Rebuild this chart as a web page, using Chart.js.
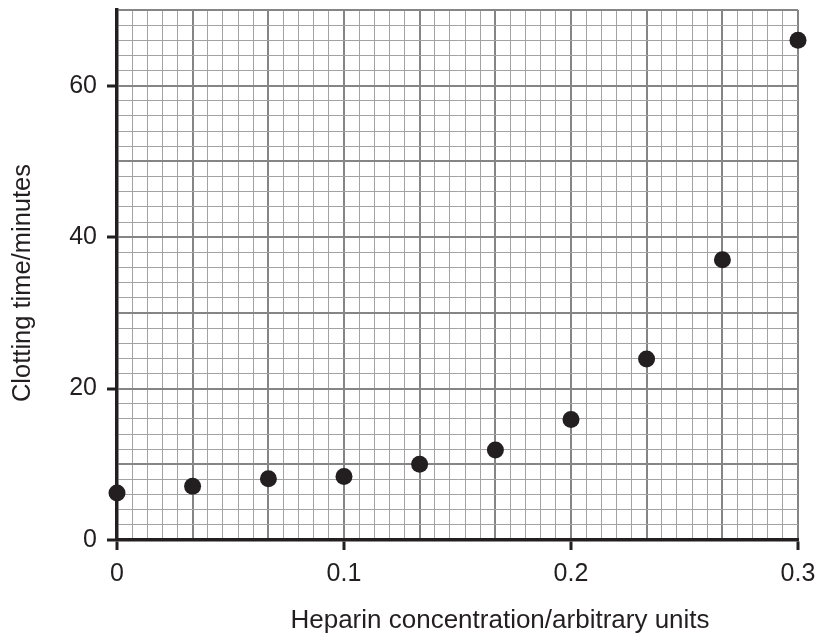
<!DOCTYPE html>
<html>
<head>
<meta charset="utf-8">
<script src="https://cdn.jsdelivr.net/npm/chart.js@4/dist/chart.umd.min.js"></script>
<style>
  body { margin: 0; background: #fff; }
  canvas { display: block; }
</style>
</head>
<body>
<canvas id="chart" width="817" height="634"></canvas>
<script>
// data
const heparin = [0, 0.0333, 0.0667, 0.1, 0.1333, 0.1667, 0.2, 0.2333, 0.2667, 0.3];
const clotTime = [6.2, 7.1, 8.1, 8.4, 10, 11.9, 15.9, 23.9, 37, 66];

const xTickValues = [0, 0.1, 0.2, 0.3];
const xTickLabels = ['0', '0.1', '0.2', '0.3'];
const yTickValues = [0, 20, 40, 60];
const yTickLabels = ['0', '20', '40', '60'];

const xTitle = 'Heparin concentration/arbitrary units';
const yTitle = 'Clotting time/minutes';

// graph paper: small squares, heavier line every 5 squares
const xMax = 0.3, xSquares = 45;
const yMax = 70, ySquares = 35;

const ink = '#231f20';
const fontFamily = '"Liberation Sans", Arial, sans-serif';

function labelFor(value, values, labels) {
  const i = values.findIndex(v => Math.abs(v - value) < 1e-9);
  return i >= 0 ? labels[i] : '';
}

function paperGrid(values, labels) {
  return {
    color: ctx => (ctx.index % 5 === 0 ? '#858585' : '#a2a2a2'),
    lineWidth: ctx => (ctx.index % 5 === 0 ? 2 : 1),
    drawTicks: true,
    tickLength: 10,
    tickWidth: 3,
    tickColor: ctx => (ctx.tick && labelFor(ctx.tick.value, values, labels) !== '' ? ink : 'rgba(0,0,0,0)')
  };
}

const axisTitles = {
  id: 'axisTitles',
  afterDraw(chart) {
    const ctx = chart.ctx;
    ctx.save();
    ctx.fillStyle = ink;
    ctx.font = '26px ' + fontFamily;
    ctx.textAlign = 'center';
    ctx.textBaseline = 'alphabetic';
    ctx.fillText(xTitle, 500, 628);
    ctx.translate(30, 283);
    ctx.rotate(-Math.PI / 2);
    ctx.font = '25.5px ' + fontFamily;
    ctx.fillText(yTitle, 0, 0);
    ctx.restore();
  }
};

const ctx = document.getElementById('chart').getContext('2d');

new Chart(ctx, {
  type: 'scatter',
  data: {
    datasets: [{
      data: heparin.map((x, i) => ({ x: x, y: clotTime[i] })),
      backgroundColor: ink,
      borderWidth: 0,
      pointRadius: 8.5,
      pointHoverRadius: 8.5,
      clip: false
    }]
  },
  options: {
    responsive: false,
    animation: false,
    events: [],
    layout: { padding: { top: 10, right: 19, left: 0, bottom: 0 } },
    plugins: {
      legend: { display: false },
      tooltip: { enabled: false }
    },
    scales: {
      x: {
        type: 'linear',
        min: 0,
        max: xMax,
        afterBuildTicks: scale => {
          const t = [];
          for (let i = 0; i <= xSquares; i++) t.push({ value: (xMax * i) / xSquares });
          scale.ticks = t;
        },
        afterFit: scale => {
          scale.height = 94;
          scale.paddingLeft = 0;
          scale.paddingRight = 0;
        },
        grid: paperGrid(xTickValues, xTickLabels),
        border: { display: true, color: ink, width: 3.5, z: 1 },
        ticks: {
          autoSkip: false,
          maxRotation: 0,
          minRotation: 0,
          padding: 9,
          color: ink,
          font: { family: fontFamily, size: 25 },
          callback: value => labelFor(value, xTickValues, xTickLabels)
        }
      },
      y: {
        type: 'linear',
        min: 0,
        max: yMax,
        afterBuildTicks: scale => {
          const t = [];
          for (let i = 0; i <= ySquares; i++) t.push({ value: (yMax * i) / ySquares });
          scale.ticks = t;
        },
        afterFit: scale => {
          scale.width = 117;
          scale.paddingTop = 0;
          scale.paddingBottom = 0;
        },
        grid: paperGrid(yTickValues, yTickLabels),
        border: { display: true, color: ink, width: 3.5, z: 1 },
        ticks: {
          autoSkip: false,
          padding: 10,
          color: ink,
          font: { family: fontFamily, size: 25 },
          callback: value => labelFor(value, yTickValues, yTickLabels)
        }
      }
    }
  },
  plugins: [axisTitles]
});
</script>
</body>
</html>
